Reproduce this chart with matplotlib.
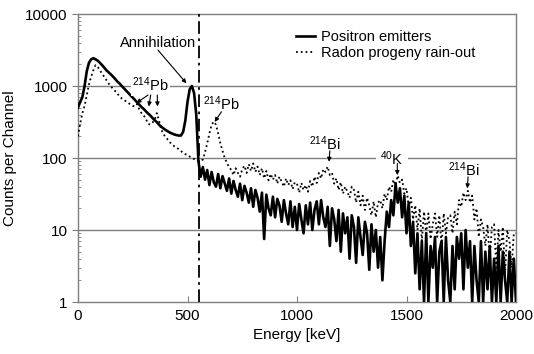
import numpy as np
import matplotlib
matplotlib.use('Agg')
import matplotlib.pyplot as plt

plt.rcParams['font.family'] = ['Liberation Sans', 'DejaVu Sans']
plt.rcParams['mathtext.fontset'] = 'custom'
plt.rcParams['mathtext.rm'] = 'Liberation Sans'

# energy of each channel group (keV)
energy = np.arange(0, 2001, 10)

# Positron emitters (counts per channel)
positron = [
    500, 600, 700, 1000, 1600, 2100, 2350, 2430, 2350, 2250,
    2100, 1950, 1800, 1650, 1550, 1450, 1350, 1250, 1150, 1080,
    1000, 930, 860, 800, 740, 690, 640, 590, 550, 510,
    480, 445, 415, 390, 360, 335, 315, 290, 272, 258,
    245, 235, 225, 218, 212, 208, 205, 205, 230, 330,
    600, 900, 1000, 800, 400, 90, 55, 75, 50, 68,
    42, 64, 46, 40, 60, 38, 56, 44, 35, 52,
    32, 48, 36, 29, 44, 26, 41, 33, 24, 38,
    21, 36, 28, 18, 33, 7.5, 31, 20, 16, 29,
    15, 27, 22, 13, 26, 17, 12, 25, 11, 21,
    10, 23, 14, 9, 22, 12, 24, 10, 19, 25,
    12, 26, 15, 11, 21, 6, 20, 14, 7, 19,
    5, 17, 9, 15, 4, 16, 11, 3.5, 15, 8,
    4.5, 13, 9, 2.8, 12, 5, 10, 3, 8, 2,
    7, 18, 11, 26, 16, 44, 24, 38, 15, 30,
    9, 24, 6, 13, 2.5, 9, 1.5, 7, 1, 9,
    1, 6, 3, 8, 1, 5, 7, 1, 8, 2,
    1, 6, 1.5, 8, 4, 9, 1.5, 10, 3, 7,
    1, 6, 2, 1, 7, 1, 5, 1.5, 6, 1,
    4, 1, 6, 1, 5, 2, 1, 5, 1, 4,
    1,
]

# Radon progeny rain-out
radon = [
    200, 300, 420, 530, 750, 1050, 1350, 1650, 1950, 1850,
    1650, 1480, 1340, 1200, 1080, 990, 910, 850, 780, 720,
    670, 640, 610, 580, 555, 530, 520, 560, 470, 420,
    390, 350, 300, 290, 310, 340, 420, 330, 250, 215,
    195, 180, 165, 155, 145, 140, 132, 125, 118, 113,
    110, 105, 100, 97, 95, 90, 92, 95, 120, 160,
    220, 290, 320, 290, 220, 160, 125, 100, 85, 75,
    68, 58, 72, 62, 55, 70, 78, 62, 82, 66,
    84, 64, 76, 58, 72, 52, 66, 49, 60, 50,
    58, 44, 55, 47, 40, 52, 42, 49, 37, 46,
    44, 33, 45, 36, 42, 34, 48, 40, 55, 45,
    62, 52, 70, 64, 76, 58, 62, 44, 52, 36,
    46, 32, 40, 34, 28, 40, 36, 24, 34, 22,
    30, 19, 28, 22, 16, 25, 15, 24, 26, 20,
    32, 26, 40, 34, 50, 42, 57, 45, 50, 32,
    38, 21, 28, 14, 22, 10, 20, 7, 18, 9,
    17, 7.5, 12, 17, 8, 16, 6, 17, 9, 15,
    16, 9, 18, 12, 26, 21, 33, 26, 35, 24,
    30, 14, 20, 8, 14, 11, 6, 12, 4, 11,
    12, 3, 10, 5, 11, 2.5, 10, 7, 3, 9,
    9,
]

cutoff = 553  # dash-dot marker line

fig = plt.figure(figsize=(5.34, 3.54), dpi=100)
ax = fig.add_axes([78 / 534, 52 / 354, 438 / 534, 288 / 354])

grey = '#7f7f7f'
for v in [10, 100, 1000]:
    ax.axhline(v, color=grey, lw=1.0, zorder=1)

ax.plot(energy, positron, color='black', lw=1.9, label='Positron emitters', zorder=3)
ax.plot(energy, radon, color='black', lw=1.3, ls=':', label='Radon progeny rain-out', zorder=3)
ax.axvline(cutoff, color='black', lw=1.3, ls=(0, (7, 2.5, 1.5, 2.5)), zorder=4)

ax.set_yscale('log')
ax.set_xlim(0, 2000)
ax.set_ylim(1, 10000)
ax.set_xticks([0, 500, 1000, 1500, 2000])
ax.set_yticks([1, 10, 100, 1000, 10000])
ax.set_yticklabels(['1', '10', '100', '1000', '10000'])
ax.tick_params(axis='x', direction='in', length=4, labelsize=11, pad=5, color=grey)
ax.tick_params(axis='y', which='major', direction='out', length=4, labelsize=11, color=grey)
ax.tick_params(axis='y', which='minor', direction='in', length=2.5, color=grey)
for s in ax.spines.values():
    s.set_color(grey)
    s.set_linewidth(1.0)

ax.set_xlabel('Energy [keV]', fontsize=11, labelpad=4)
ax.set_ylabel('Counts per Channel', fontsize=11, labelpad=6)

leg = ax.legend(loc='upper left', bbox_to_anchor=(0.498, 0.945), frameon=False,
                fontsize=10.5, handlelength=1.3, handletextpad=0.4,
                borderpad=0, borderaxespad=0, labelspacing=0.15)

fs = 10.5
arrow = dict(arrowstyle='-|>', lw=0.8, color='black', mutation_scale=6,
             shrinkA=0, shrinkB=0)
white = dict(facecolor='white', edgecolor='none', pad=1.0)

ax.text(366, 3970, 'Annihilation', fontsize=fs, ha='center', va='center', zorder=5)
ax.annotate('', xy=(495, 1090), xytext=(365, 3160), arrowprops=arrow, zorder=5)

ax.text(331, 1033, r'$\mathregular{^{214}}$Pb', fontsize=fs, ha='center', va='center',
        bbox=white, zorder=5)
for (x0, x1, y1) in [(320, 267, 580), (332, 323, 520), (362, 363, 520)]:
    ax.annotate('', xy=(x1, y1), xytext=(x0, 750), arrowprops=arrow, zorder=5)

ax.text(654, 575, r'$\mathregular{^{214}}$Pb', fontsize=fs, ha='center', va='center', zorder=5)
ax.annotate('', xy=(624, 317), xytext=(655, 439), arrowprops=arrow, zorder=5)

ax.text(1126, 160, r'$\mathregular{^{214}}$Bi', fontsize=fs, ha='center', va='center', zorder=5)
ax.annotate('', xy=(1146, 88.6), xytext=(1150, 126), arrowprops=arrow, zorder=5)

ax.text(1435, 98.7, r'$\mathregular{^{40}}$K', fontsize=fs, ha='center', va='center',
        bbox=dict(facecolor='white', edgecolor='none', pad=3.0), zorder=5)
ax.annotate('', xy=(1458, 57.8), xytext=(1458, 84), arrowprops=arrow, zorder=5)

ax.text(1761, 68, r'$\mathregular{^{214}}$Bi', fontsize=fs, ha='center', va='center', zorder=5)
ax.annotate('', xy=(1778, 37.8), xytext=(1781, 54.7), arrowprops=arrow, zorder=5)

fig.savefig('out.png', dpi=100)
